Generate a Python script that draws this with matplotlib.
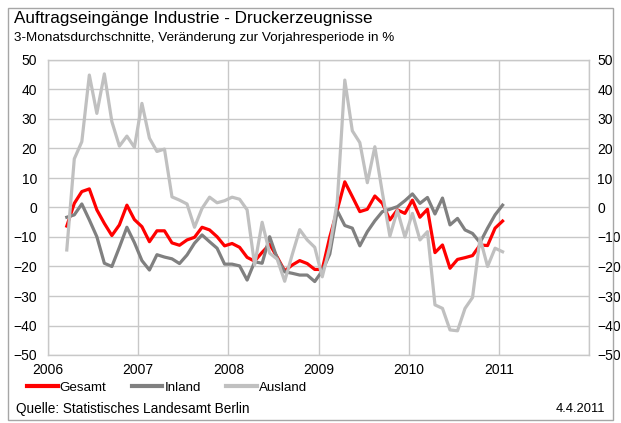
import numpy as np
import pandas as pd
import matplotlib
matplotlib.use("Agg")
import matplotlib.pyplot as plt
from matplotlib.patches import Rectangle

# -*- coding: utf-8 -*-
# monthly 3-month averages, change vs. previous year in %
months = pd.period_range("2006-03", "2011-01", freq="M")

gesamt = [-6.3, 1.4, 5.4, 6.3, -0.8, -5.4, -9.5, -5.9, 0.8, -4.1,
          -6.5, -11.6, -7.9, -7.9, -12.0, -12.8, -11.0, -10.1, -6.7, -7.6,
          -9.9, -13.0, -12.2, -13.5, -16.9, -18.2, -15.2, -12.5, -16.8, -21.5,
          -19.5, -18.0, -19.0, -21.0, -21.0, -10.0, -0.8, 8.7, 3.7, -1.4,
          -0.6, 3.9, 1.4, -4.2, -0.8, -2.0, 2.5, -3.3, -0.6, -15.3,
          -12.7, -20.6, -17.6, -17.0, -16.3, -12.7, -12.9, -7.0, -4.6]

inland = [-3.3, -2.5, 1.2, -4.2, -9.9, -18.9, -20.0, -13.5, -6.7, -11.9,
          -18.0, -21.2, -16.0, -16.8, -17.4, -19.0, -16.1, -12.1, -9.3, -11.6,
          -13.8, -19.2, -19.2, -19.8, -24.6, -18.4, -18.9, -9.9, -17.2, -21.8,
          -22.3, -22.9, -22.9, -25.1, -21.5, -15.8, -1.1, -6.1, -7.0, -13.0,
          -8.2, -4.5, -1.4, -0.6, 0.3, 2.3, 4.6, 1.4, 3.4, -2.2,
          3.2, -5.9, -3.7, -7.6, -8.8, -11.9, -7.0, -2.5, 0.8]

ausland = [-14.4, 16.5, 22.3, 44.9, 31.9, 45.3, 29.1, 20.8, 24.2, 20.4,
           35.3, 23.5, 19.0, 19.8, 3.6, 2.5, 1.2, -6.7, -0.3, 3.5,
           1.6, 2.3, 3.5, 2.8, -0.8, -19.5, -5.0, -15.5, -17.5, -25.0,
           -16.0, -7.5, -11.0, -13.5, -23.5, -13.3, 2.0, 43.2, 26.0, 22.0,
           8.4, 20.6, 5.0, -9.7, -1.0, -10.0, -2.0, -11.0, -8.2, -33.0,
           -34.2, -41.5, -41.8, -34.2, -30.5, -10.4, -20.0, -13.8, -15.0]

years = [2006, 2007, 2008, 2009, 2010, 2011]
yticks = list(range(-50, 51, 10))

# months placed at mid-month on a decimal-year axis
x = months.year + (months.month - 0.5) / 12.0

plt.rcParams['font.family'] = ['Liberation Sans', 'DejaVu Sans']

W, H = 621, 423
fig = plt.figure(figsize=(W / 100, H / 100), dpi=100)
fig.patch.set_facecolor('white')

# outer frame of the chart
fig.patches.append(Rectangle((8 / W, 1 - 420 / H), 605 / W, 412 / H,
                             transform=fig.transFigure, fill=False,
                             edgecolor='#a6a6a6', linewidth=1.0))

ax = fig.add_axes([48 / W, 1 - 355 / H, (589 - 48) / W, (355 - 60) / H])

gridc = '#c8c8c8'
ax.set_xlim(2006, 2012)
ax.set_ylim(-50, 50)
ax.set_yticks(yticks)
ax.set_xticks(years + [2012])
ax.set_xticklabels([str(y) for y in years] + [''])
ax.grid(True, color=gridc, linewidth=1.0)
ax.set_axisbelow(True)
for s in ax.spines.values():
    s.set_color(gridc)
    s.set_linewidth(1.0)
ax.tick_params(axis='both', length=0, labelsize=10, colors='black')
ax.tick_params(axis='y', pad=8)
ax.tick_params(axis='x', pad=6)

l1, = ax.plot(x, gesamt, color='#ff0000', linewidth=2.3, label='Gesamt')
l2, = ax.plot(x, inland, color='#808080', linewidth=2.3, label='Inland')
l3, = ax.plot(x, ausland, color='#c0c0c0', linewidth=2.3, label='Ausland')

# right axis with the same scale
ax2 = ax.twinx()
ax2.set_ylim(-50, 50)
ax2.set_yticks(yticks)
ax2.tick_params(axis='y', length=0, labelsize=10, pad=6)
for s in ax2.spines.values():
    s.set_visible(False)

fig.text(14 / W, 1 - 19 / H, 'Auftragseingänge Industrie - Druckerzeugnisse',
         fontsize=12.3, va='center', ha='left')
fig.text(14 / W, 1 - 38 / H,
         '3-Monatsdurchschnitte, Veränderung zur Vorjahresperiode in %',
         fontsize=9.7, va='center', ha='left')

leg = fig.legend(handles=[l1, l2, l3], loc='center left',
                 bbox_to_anchor=(27 / W, 1 - 388 / H), ncol=3, frameon=False,
                 fontsize=9.6, handlelength=2.3, handletextpad=0.15,
                 columnspacing=1.9, borderaxespad=0, borderpad=0)
for h in leg.get_lines():
    h.set_linewidth(3.0)

fig.text(16 / W, 1 - 409 / H, 'Quelle: Statistisches Landesamt Berlin',
         fontsize=9.8, va='center', ha='left')
fig.text(605 / W, 1 - 409 / H, '4.4.2011', fontsize=9.3, va='center', ha='right')

fig.savefig('out.png', dpi=100)
